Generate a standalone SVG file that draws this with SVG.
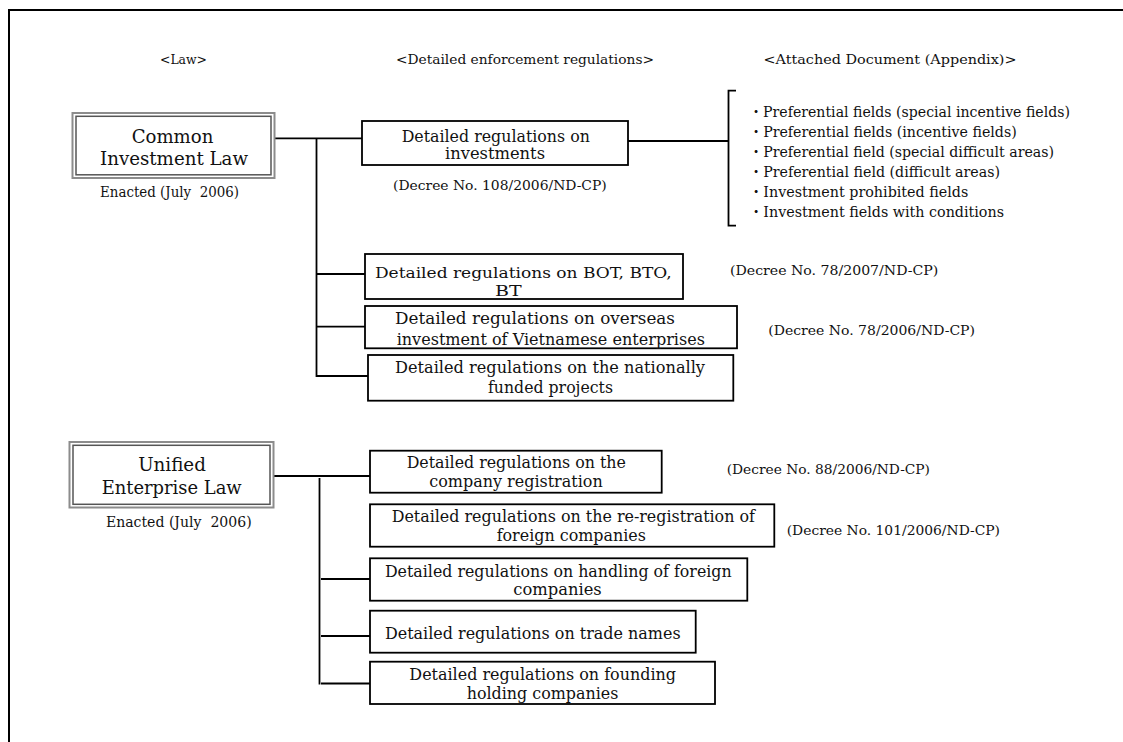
<svg xmlns="http://www.w3.org/2000/svg" width="1123" height="742" viewBox="0 0 1123 742">
<style>
.t{font-family:"DejaVu Serif","Liberation Serif","Noto Sans CJK JP",serif;fill:#111}
.h{font-size:13px}
.d{font-size:13.5px}
.li{font-size:14.5px}
.bt{font-size:16.5px}
.bs{font-size:15.3px}
.lt{font-size:18.5px}
.en{font-size:14px;white-space:pre}
.bx{fill:#fff;stroke:#000;stroke-width:1.8}
.o{fill:#fff;stroke:#8c8c8c;stroke-width:2}
.i{fill:none;stroke:#555;stroke-width:1.5}
.c{stroke:#000;stroke-width:1.8;fill:none}
</style>
<rect width="1123" height="742" fill="#fff"/>
<path d="M9,742 V10 H1123" fill="none" stroke="#000" stroke-width="2"/>
<g id="headers">
<text class="t h" x="183.5" y="64" text-anchor="middle" textLength="47" lengthAdjust="spacingAndGlyphs">&lt;Law&gt;</text>
<text class="t h" x="525" y="64" text-anchor="middle" textLength="258" lengthAdjust="spacingAndGlyphs">&lt;Detailed enforcement regulations&gt;</text>
<text class="t h" x="890" y="64" text-anchor="middle" textLength="253" lengthAdjust="spacingAndGlyphs">&lt;Attached Document (Appendix)&gt;</text>
</g>
<g id="connectors">
<line class="c" x1="275" y1="138.3" x2="362" y2="138.3"/>
<line class="c" x1="316.5" y1="138.3" x2="316.5" y2="377"/>
<line class="c" x1="316.5" y1="274" x2="365" y2="274"/>
<line class="c" x1="316.5" y1="326.7" x2="365" y2="326.7"/>
<line class="c" x1="316.5" y1="376" x2="368" y2="376"/>
<line class="c" x1="628" y1="141" x2="728.5" y2="141"/>
<path class="c" d="M736,90.7 H728.5 V225.7 H736"/>
<line class="c" x1="273" y1="476" x2="370" y2="476"/>
<line class="c" x1="319.5" y1="478" x2="319.5" y2="684.5"/>
<line class="c" x1="321" y1="579" x2="370" y2="579"/>
<line class="c" x1="321" y1="636" x2="370" y2="636"/>
<line class="c" x1="321" y1="683.5" x2="370" y2="683.5"/>
</g>
<g id="law-common">
<rect class="o" x="72.5" y="113" width="202" height="65"/>
<rect class="i" x="76" y="116.3" width="195" height="58.5"/>
<text class="t lt" x="172.5" y="142.5" text-anchor="middle" textLength="81.7" lengthAdjust="spacingAndGlyphs">Common</text>
<text class="t lt" x="174" y="165" text-anchor="middle" textLength="148" lengthAdjust="spacingAndGlyphs">Investment Law</text>
<text class="t en" x="169.5" y="197" text-anchor="middle" textLength="139" lengthAdjust="spacingAndGlyphs">Enacted (July  2006)</text>
</g>
<g id="law-unified">
<rect class="o" x="69.5" y="442" width="204" height="65.5"/>
<rect class="i" x="73" y="445.3" width="197" height="59"/>
<text class="t lt" x="172" y="471" text-anchor="middle" textLength="67.7" lengthAdjust="spacingAndGlyphs">Unified</text>
<text class="t lt" x="171.7" y="494" text-anchor="middle" textLength="140" lengthAdjust="spacingAndGlyphs">Enterprise Law</text>
<text class="t en" x="178.8" y="527" text-anchor="middle" textLength="145.7" lengthAdjust="spacingAndGlyphs">Enacted (July  2006)</text>
</g>
<g id="reg-investments">
<rect class="bx" x="362" y="121" width="266" height="44"/>
<text class="t bt" x="495.8" y="141.7" text-anchor="middle" textLength="188.3" lengthAdjust="spacingAndGlyphs">Detailed regulations on</text>
<text class="t bt" x="495" y="159.3" text-anchor="middle" textLength="100" lengthAdjust="spacingAndGlyphs">investments</text>
<text class="t d" x="393" y="189.5" textLength="213.7" lengthAdjust="spacingAndGlyphs">(Decree No. 108/2006/ND-CP)</text>
</g>
<g id="appendix">
<text class="t li" x="749" y="117.3" textLength="321" lengthAdjust="spacingAndGlyphs">・Preferential fields (special incentive fields)</text>
<text class="t li" x="749" y="137.3" textLength="267.7" lengthAdjust="spacingAndGlyphs">・Preferential fields (incentive fields)</text>
<text class="t li" x="749" y="157.3" textLength="305" lengthAdjust="spacingAndGlyphs">・Preferential field (special difficult areas)</text>
<text class="t li" x="749" y="177.3" textLength="251" lengthAdjust="spacingAndGlyphs">・Preferential field (difficult areas)</text>
<text class="t li" x="749" y="197.3" textLength="219.3" lengthAdjust="spacingAndGlyphs">・Investment prohibited fields</text>
<text class="t li" x="749" y="217.3" textLength="255" lengthAdjust="spacingAndGlyphs">・Investment fields with conditions</text>
</g>
<g id="reg-bot">
<rect class="bx" x="365" y="254" width="318" height="45"/>
<text class="t bs" x="523.3" y="277.5" text-anchor="middle" textLength="296.7" lengthAdjust="spacingAndGlyphs">Detailed regulations on BOT, BTO,</text>
<text class="t bs" x="508.3" y="295.8" text-anchor="middle" textLength="26.7" lengthAdjust="spacingAndGlyphs">BT</text>
<text class="t d" x="730" y="275" textLength="208.3" lengthAdjust="spacingAndGlyphs">(Decree No. 78/2007/ND-CP)</text>
</g>
<g id="reg-overseas">
<rect class="bx" x="365" y="306" width="372" height="42.3"/>
<text class="t bt" x="535" y="324.3" text-anchor="middle" textLength="280" lengthAdjust="spacingAndGlyphs">Detailed regulations on overseas</text>
<text class="t bt" x="550.8" y="345" text-anchor="middle" textLength="308.3" lengthAdjust="spacingAndGlyphs">investment of Vietnamese enterprises</text>
<text class="t d" x="768.3" y="335" textLength="206.7" lengthAdjust="spacingAndGlyphs">(Decree No. 78/2006/ND-CP)</text>
</g>
<g id="reg-national">
<rect class="bx" x="368" y="355" width="365.3" height="45.7"/>
<text class="t bt" x="550" y="373.3" text-anchor="middle" textLength="310" lengthAdjust="spacingAndGlyphs">Detailed regulations on the nationally</text>
<text class="t bt" x="550.5" y="393.3" text-anchor="middle" textLength="125" lengthAdjust="spacingAndGlyphs">funded projects</text>
</g>
<g id="reg-company-registration">
<rect class="bx" x="370" y="450.7" width="291.7" height="42"/>
<text class="t bt" x="516.3" y="468.3" text-anchor="middle" textLength="219.3" lengthAdjust="spacingAndGlyphs">Detailed regulations on the</text>
<text class="t bt" x="516" y="486.7" text-anchor="middle" textLength="173.4" lengthAdjust="spacingAndGlyphs">company registration</text>
<text class="t d" x="726.7" y="474" textLength="203.3" lengthAdjust="spacingAndGlyphs">(Decree No. 88/2006/ND-CP)</text>
</g>
<g id="reg-reregistration">
<rect class="bx" x="370" y="504.3" width="404.3" height="42.4"/>
<text class="t bt" x="573.3" y="521.7" text-anchor="middle" textLength="363.3" lengthAdjust="spacingAndGlyphs">Detailed regulations on the re-registration of</text>
<text class="t bt" x="571.3" y="540.7" text-anchor="middle" textLength="149.3" lengthAdjust="spacingAndGlyphs">foreign companies</text>
<text class="t d" x="786.7" y="534.5" textLength="213.3" lengthAdjust="spacingAndGlyphs">(Decree No. 101/2006/ND-CP)</text>
</g>
<g id="reg-handling">
<rect class="bx" x="370" y="558.3" width="377.3" height="42.4"/>
<text class="t bt" x="558.3" y="576.7" text-anchor="middle" textLength="346.7" lengthAdjust="spacingAndGlyphs">Detailed regulations on handling of foreign</text>
<text class="t bt" x="557.5" y="595" text-anchor="middle" textLength="88.4" lengthAdjust="spacingAndGlyphs">companies</text>
</g>
<g id="reg-trade-names">
<rect class="bx" x="370" y="610.7" width="325.7" height="42"/>
<text class="t bt" x="532.8" y="639.3" text-anchor="middle" textLength="295.7" lengthAdjust="spacingAndGlyphs">Detailed regulations on trade names</text>
</g>
<g id="reg-holding">
<rect class="bx" x="370" y="661.7" width="345" height="42.3"/>
<text class="t bt" x="542.7" y="680" text-anchor="middle" textLength="266.7" lengthAdjust="spacingAndGlyphs">Detailed regulations on founding</text>
<text class="t bt" x="542.5" y="699.3" text-anchor="middle" textLength="151.6" lengthAdjust="spacingAndGlyphs">holding companies</text>
</g>
</svg>
